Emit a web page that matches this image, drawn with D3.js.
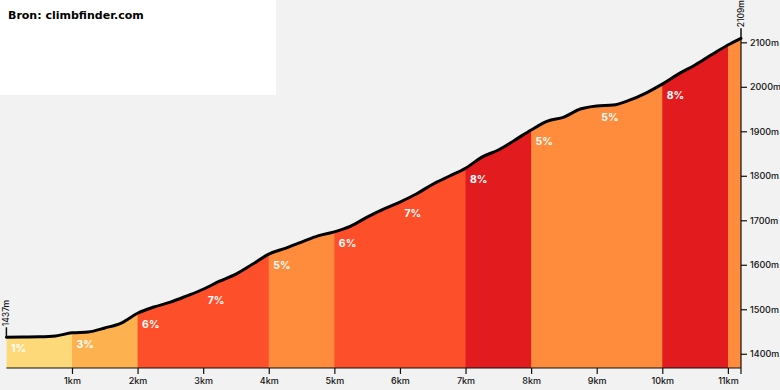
<!DOCTYPE html>
<html>
<head>
<meta charset="utf-8">
<script src="https://cdn.jsdelivr.net/npm/d3@7"></script>
<style>
  html, body { margin: 0; padding: 0; background: #f2f2f2; }
  svg { display: block; }
</style>
</head>
<body>
<svg id="chart" width="780" height="390"></svg>
<script>
// ---- data ----
const distances = [0,0.25,0.5,0.75,1,1.25,1.5,1.75,2,2.25,2.5,2.75,3,3.25,3.5,3.75,4,4.25,4.5,4.75,5,5.25,5.5,5.75,6,6.25,6.5,6.75,7,7.25,7.5,7.75,8,8.25,8.5,8.75,9,9.25,9.5,9.75,10,10.25,10.5,10.75,11,11.2];
const elevations = [1437,1437.5,1438,1440,1447,1449,1458,1469,1491,1505,1516,1530,1545,1563,1579,1601,1624,1637,1651,1665,1674,1687,1707,1725,1741,1759,1781,1799,1817,1842,1858,1880,1903,1923,1932,1950,1957,1959,1970,1986,2006,2029,2049,2072,2094,2109];
const segmentStarts = [0,1,2,3,4,5,6,7,8,9,10,11];
const segmentEnds   = [1,2,3,4,5,6,7,8,9,10,11,11.2];
const segmentGrades = [1,3,6,7,5,6,7,8,5,5,8,5];
const gradeLabels   = ["1%","3%","6%","7%","5%","6%","7%","8%","5%","5%","8%",""];
const elevTicks = [1400,1500,1600,1700,1800,1900,2000,2100];
const kmTicks = [1,2,3,4,5,6,7,8,9,10,11];
const startLabel = "1437m";
const endLabel = "2109m";
const title = "Bron: climbfinder.com";

const gradeColor = g => g <= 1 ? "#fed97a" : g <= 3 ? "#fdb24f" : g <= 5 ? "#fe8c3c" : g <= 7 ? "#fe4f2b" : "#e11b1e";

const svg = d3.select("#chart");
const W = 780, H = 390;
svg.append("rect").attr("width", W).attr("height", H).attr("fill", "#f2f2f2");

const x = d3.scaleLinear().domain([0, 11.2]).range([6.4, 741]);
const y = d3.scaleLinear().domain([1368, 2109]).range([368, 38.3]);

const pts = distances.map((d, i) => ({d, e: elevations[i]}));
const curve = d3.curveMonotoneX;
const area = d3.area().x(p => x(p.d)).y0(y(1368)).y1(p => y(p.e)).curve(curve);
const line = d3.line().x(p => x(p.d)).y(p => y(p.e)).curve(curve);

const defs = svg.append("defs");
const segs = segmentStarts.map((s, i) => ({s, e: segmentEnds[i], g: segmentGrades[i], label: gradeLabels[i], i}));
segs.forEach(sg => {
  const last = sg.i === segs.length - 1;
  defs.append("clipPath").attr("id", "clip" + sg.i)
    .append("rect")
    .attr("x", x(sg.s)).attr("y", 0)
    .attr("width", x(sg.e) - x(sg.s) + (last ? 0 : 1.5))
    .attr("height", H);
});

svg.append("g").selectAll("path").data(segs).join("path")
  .attr("d", area(pts))
  .attr("fill", d => gradeColor(d.g))
  .attr("clip-path", d => `url(#clip${d.i})`);

// profile line
svg.append("path").attr("d", line(pts))
  .attr("fill", "none").attr("stroke", "#000").attr("stroke-width", 3)
  .attr("stroke-linejoin", "round").attr("stroke-linecap", "round");

// grade labels
const elevAt = km => elevations[distances.indexOf(km)];
svg.append("g").selectAll("text").data(segs.filter(s => s.label)).join("text")
  .attr("x", d => x(d.s) + 4.5)
  .attr("y", d => y(elevAt(d.s)) + 15)
  .attr("fill", "#fff")
  .attr("font-family", "Inter, 'Noto Sans', sans-serif")
  .attr("font-weight", 700)
  .attr("font-size", "10.5px")
  .text(d => d.label);

// bottom axis
const xAxis = d3.axisBottom(x).tickValues(kmTicks).tickFormat(d => d + "km").tickSize(6).tickPadding(4);
const gx = svg.append("g").attr("transform", `translate(0,${y(1368)})`).call(xAxis);
gx.select(".domain").attr("d", `M${x(0)},0H${x(11.2)}`).attr("stroke", "#111").attr("stroke-width", 1.2);
gx.append("line").attr("x1", x(11.2)).attr("x2", x(11.2)).attr("y1", 0).attr("y2", 6).attr("stroke", "#111").attr("stroke-width", 1.2);
gx.selectAll(".tick line").attr("stroke", "#111").attr("stroke-width", 1.2);
gx.selectAll("text").attr("fill", "#111").attr("font-family", "Inter, 'Noto Sans', sans-serif").attr("font-size", "9px").attr("font-weight", 500);

// right axis
const yAxis = d3.axisRight(y).tickValues(elevTicks).tickFormat(d => d + "m").tickSize(6).tickPadding(3);
const gy = svg.append("g").attr("transform", `translate(${x(11.2)},0)`).call(yAxis);
gy.select(".domain").attr("d", `M0,${y(2109)}V${y(1368)}`).attr("stroke", "#111").attr("stroke-width", 1.2);
gy.selectAll(".tick line").attr("stroke", "#111").attr("stroke-width", 1.2);
gy.selectAll("text").attr("fill", "#111").attr("font-family", "Inter, 'Noto Sans', sans-serif").attr("font-size", "9px").attr("font-weight", 500);

// start / end elevation markers
function marker(km, elev, label) {
  const px = x(km), py = y(elev);
  svg.append("line").attr("x1", px).attr("x2", px).attr("y1", py).attr("y2", py - 10)
    .attr("stroke", "#111").attr("stroke-width", 1.5);
  svg.append("text").attr("transform", `translate(${px + 3},${py - 11}) rotate(-90)`)
    .attr("fill", "#111").attr("font-family", "Inter, 'Noto Sans', sans-serif")
    .attr("font-size", "8.5px").attr("font-weight", 500).text(label);
}
marker(0, elevations[0], startLabel);
marker(11.2, elevations[elevations.length - 1], endLabel);

// title box
svg.append("rect").attr("x", 0).attr("y", 0).attr("width", 276).attr("height", 95).attr("fill", "#fff");
svg.append("text").attr("x", 8).attr("y", 19)
  .attr("font-family", "'DejaVu Sans', Verdana, sans-serif").attr("font-weight", 700)
  .attr("font-size", "11px").attr("fill", "#000").text(title);
</script>
</body>
</html>
